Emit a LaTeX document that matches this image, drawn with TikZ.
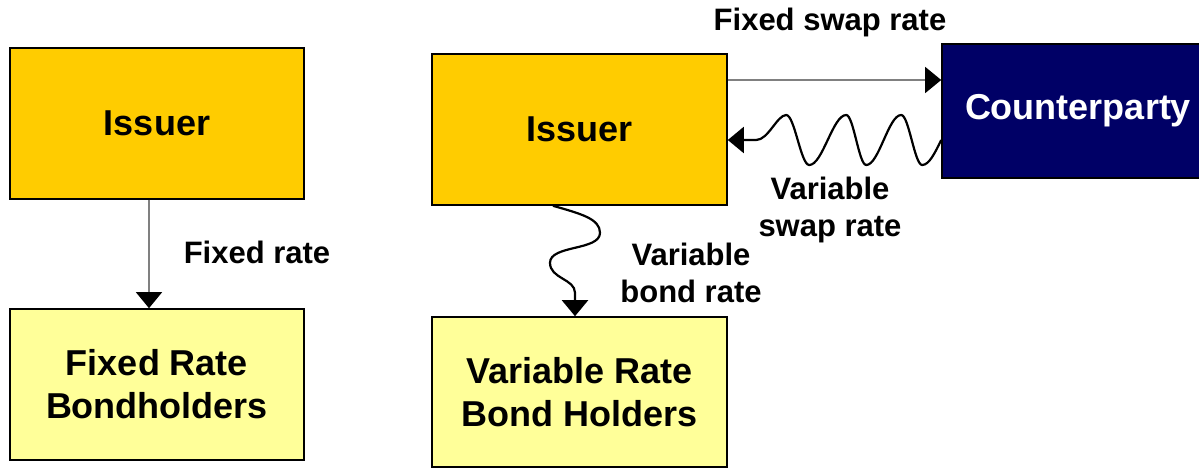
\documentclass[tikz,border=0pt]{standalone}
\usepackage{fontspec}
\setmainfont{Liberation Sans}
\usetikzlibrary{arrows.meta}
\definecolor{gold}{HTML}{FFCC00}
\definecolor{paleyellow}{HTML}{FFFF99}
\definecolor{navy}{HTML}{000066}
\definecolor{linkgray}{HTML}{808080}
\tikzset{
  party/.style={draw=black, line width=1.6pt, minimum width=294pt, minimum height=151pt,
    inner sep=0pt, align=center, font=\fontsize{36}{43}\selectfont\bfseries},
  issuerbox/.style={party, fill=gold},
  holderbox/.style={party, fill=paleyellow},
  cpbox/.style={party, fill=navy, text=white, minimum width=272pt, minimum height=134pt},
  flowlabel/.style={align=center, inner sep=0pt, font=\fontsize{31}{37}\selectfont\bfseries},
  tip/.style={-{Triangle[length=16pt,width=26pt,color=black]}},
  fixedflow/.style={tip, draw=linkgray, line width=1.3pt},
  floatflow/.style={tip, draw=black, line width=2.2pt, line join=round}
}
\begin{document}
\begin{tikzpicture}[x=1pt, y=-1pt]
\useasboundingbox (0,0) rectangle (1199,468);
\clip (0,0) rectangle (1199,468);

% plain fixed-rate bond
\node[issuerbox] (issL) at (157,123.5) {Issuer};
\node[holderbox] (fixB) at (157,384.5) {Fixed Rate\\Bondholders};
\draw[fixedflow] ([xshift=-8pt]issL.south) -- ([xshift=-8pt]fixB.north);
\node[flowlabel] (lblFixed) at (257,252) {Fixed rate};

% variable-rate bond swapped to fixed
\node[issuerbox, minimum width=295pt] (issR) at (579.5,129.5) {Issuer};
\node[cpbox] (cp) at (1078,111) {Counterparty};
\node[holderbox, minimum width=295pt, minimum height=150pt] (vbh) at (579.5,392) {Variable Rate\\Bond Holders};

% fixed leg to the counterparty
\draw[fixedflow] ([yshift=49.5pt]issR.east) coordinate (fsStart) -- (fsStart -| cp.west);
\node[flowlabel] (lblFixedSwap) at (830,22) {Fixed swap rate};

% floating leg back to the issuer
\draw[floatflow] ([yshift=-29pt]cp.west)
  sin ++(-19,25) cos ++(-10.5,-25)
  sin ++(-10.5,-25) cos ++(-17.5,25)
  sin ++(-17.5,25) cos ++(-10,-25)
  sin ++(-10,-25) cos ++(-18.5,25)
  sin ++(-18.5,25) cos ++(-11.5,-25)
  sin ++(-11.5,-25)
  .. controls +(-9,0) and +(12,0) .. ++(-30,25)
  -- ([yshift=-10.5pt]issR.east);
\node[flowlabel] (lblVarSwap) at (830,210) {Variable\\swap rate};

% floating coupons to the bond holders
\draw[floatflow] ([xshift=-26.5pt]issR.south)
  .. controls +(28,8) and +(0,-14) .. ++(47,27)
  .. controls +(0,18) and +(0,-18) .. ++(-50,30)
  .. controls +(0,16) and +(0,-14) .. ++(25,30)
  -- ([xshift=-4.5pt]vbh.north);
\node[flowlabel] (lblVarBond) at (691,272.5) {Variable\\bond rate};
\end{tikzpicture}
\end{document}
